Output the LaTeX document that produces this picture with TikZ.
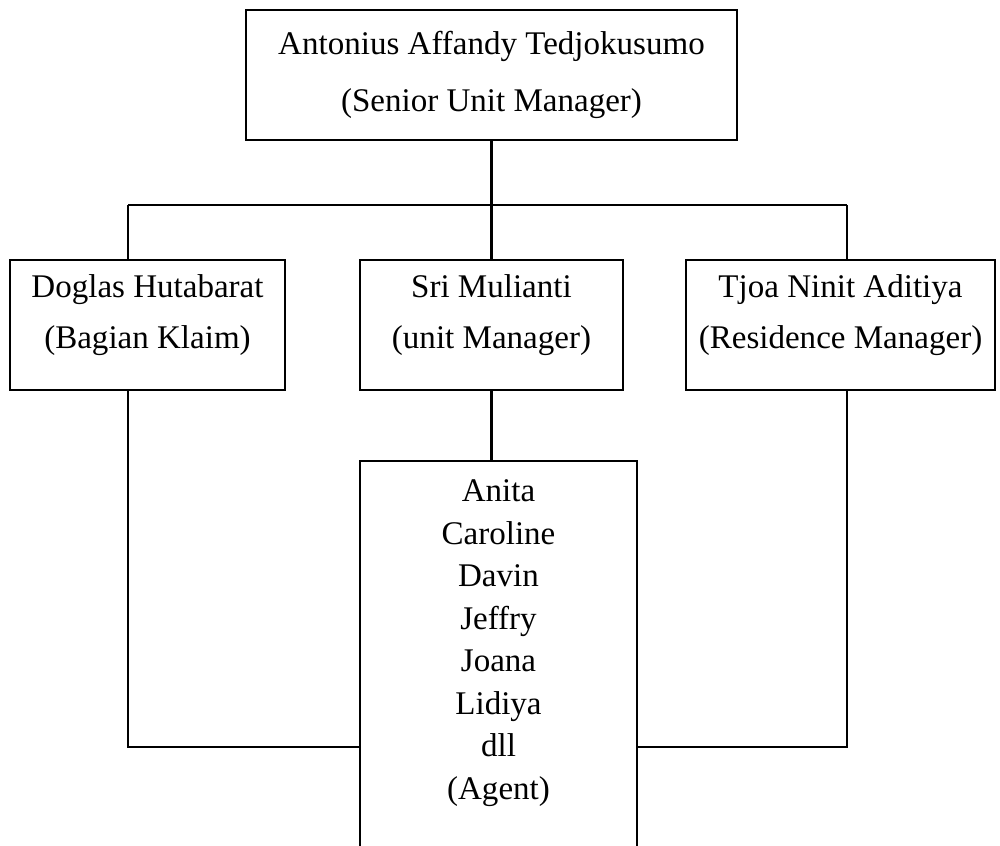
\documentclass[tikz,border=0pt]{standalone}
\usepackage{fontspec}
\setmainfont{Liberation Serif}
\usepackage{tikz}

\tikzset{
  box/.style={draw,rectangle,inner sep=0pt,align=center},
  lead/.style={font=\fontsize{9.4}{16.2}\selectfont},
  mid/.style={font=\fontsize{9.4}{14.5}\selectfont,align=center},
  list/.style={font=\fontsize{9.4}{12.1}\selectfont,align=center}
}

\begin{document}
\begin{tikzpicture}[line width=0.7pt]
  \clip (0,0) rectangle (10,-8.45);
  % top
  \node[box,lead,minimum width=4.91cm,minimum height=1.30cm] (sum) at (4.915,-0.75)
    {Antonius Affandy Tedjokusumo\\(Senior Unit Manager)};
  % second row
  \node[box,minimum width=2.75cm,minimum height=1.30cm] (klaim) at (1.475,-3.25) {};
  \node[mid] (klaimtext) at (1.475,-3.155) {Doglas Hutabarat\\(Bagian Klaim)};
  \node[box,minimum width=2.63cm,minimum height=1.30cm] (um) at (4.915,-3.25) {};
  \node[mid] (umtext) at (4.915,-3.155) {Sri Mulianti\\(unit Manager)};
  \node[box,minimum width=3.09cm,minimum height=1.30cm] (rm) at (8.405,-3.25) {};
  \node[mid] (rmtext) at (8.405,-3.155) {Tjoa Ninit Aditiya\\(Residence Manager)};
  % agents
  \node[box,minimum width=2.77cm,minimum height=4.4cm,anchor=north] (agent) at (4.985,-4.60) {};
  \node[list] (agentlist) at (4.985,-6.43)
    {Anita\\Caroline\\Davin\\Jeffry\\Joana\\Lidiya\\dll\\(Agent)};
  \coordinate (busL) at (1.28,-2.05);
  \coordinate (busR) at (8.47,-2.05);
  \coordinate (joinL) at (1.28,-7.47);
  \coordinate (joinR) at (8.47,-7.47);
  \draw (sum.south) -- (um.north);
  \draw (busL) -- (busR);
  \draw (busL) -- (busL |- klaim.north);
  \draw (busR) -- (busR |- rm.north);
  \draw (um.south) -- (um.south |- agent.north);
  \draw (busL |- klaim.south) -- (joinL) -- (joinL -| agent.west);
  \draw (busR |- rm.south) -- (joinR) -- (joinR -| agent.east);
\end{tikzpicture}
\end{document}
